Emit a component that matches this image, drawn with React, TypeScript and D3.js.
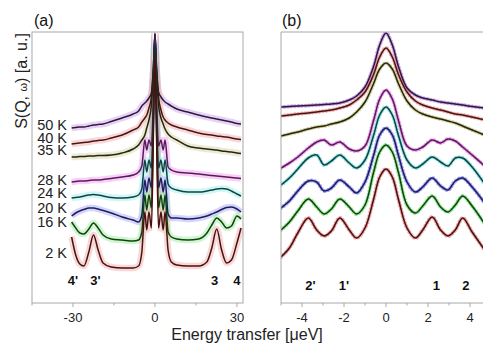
import React from "react";
import * as d3 from "d3";

// ---------- data ----------
const temperatures = ["50 K", "40 K", "35 K", "28 K", "24 K", "20 K", "16 K", "2 K"];

// panel (a): energy transfer grid [µeV]
const energyA = [-30.5, -29, -27.5, -26, -24.2, -22.5, -20.8, -19, -16, -12, -8, -6, -4.8, -3.7, -3.0, -2.2, -1.3, -0.6, 0,
  0.6, 1.3, 2.2, 3.0, 3.7, 4.8, 6, 8, 12, 16, 19, 20.8, 22.6, 24.4, 26.2, 28, 30, 31.5];

const a50K = [175, 175.5, 176, 176, 177, 178, 178.5, 179, 181.5, 185, 189, 192, 197, 200, 202, 205, 210, 235, 270,
  235, 211, 206, 203, 201, 199, 197, 194, 191, 188, 186, 185, 184, 183, 182, 181, 179.5, 179];
const a40K = [159, 159.5, 160, 160.5, 161, 162, 162.5, 163, 165, 168, 173, 176, 181, 185, 188, 195, 206, 233, 269,
  233, 206, 193, 186, 183, 180, 178, 176, 173, 170, 168.5, 168, 167, 166.5, 166, 165, 164, 163.5];
const a35K = [146, 146, 146.5, 146.5, 147, 147, 147.5, 147.5, 148, 150, 154, 158, 163, 168, 175, 183, 198, 228, 268,
  228, 198, 185, 179, 174, 169, 166, 163, 157, 155, 154, 153.5, 153, 152, 151.5, 151, 150, 149.5];
const a28K = [121, 121.5, 122, 122, 122.5, 123, 123, 123.5, 124.5, 126, 128, 131, 137, 163, 153, 163, 157, 203, 267,
  203, 157, 163, 153, 163, 136, 133, 131, 130, 129, 128, 127.5, 127, 126.5, 126, 125.5, 125, 124.5];
const a24K = [105, 105.5, 106, 107, 108, 108.5, 108, 107, 105.5, 105, 106, 108, 114, 143, 131, 143, 135, 193, 263,
  193, 135, 143, 131, 143, 119, 115, 113, 111, 111, 112, 113, 114, 114.5, 114, 112, 109, 107];
const a20K = [87, 90, 92, 93.5, 95, 95, 94, 92.5, 90, 86, 83, 81, 88, 123, 111, 125, 115, 183, 258,
  183, 115, 125, 111, 123, 89, 85, 85, 84, 85, 87, 89, 91, 93.5, 95.5, 96, 94, 91];
const a16K = [81, 75, 70, 69, 74, 80, 75, 68, 64, 63, 62, 63, 71, 108, 93, 108, 95, 173, 253,
  173, 95, 108, 93, 108, 71, 66, 64, 63, 64, 70, 78, 85, 81, 75, 77, 87, 84];
const a2K = [66, 48, 39, 37, 51, 68, 53, 40, 36, 35, 35, 37, 51, 91, 73, 91, 75, 163, 248,
  163, 75, 91, 73, 91, 53, 41, 38, 37, 37, 41, 55, 74, 53, 40, 43, 60, 75];

// panel (b): energy transfer grid [µeV]
const energyB = [-5, -4.6, -4.2, -3.7, -3.3, -2.95, -2.6, -2.2, -1.75, -1.4, -1.0, -0.6, -0.3, 0,
  0.3, 0.6, 1.0, 1.4, 1.75, 2.2, 2.6, 2.95, 3.3, 3.65, 4.1, 4.7];

const b50K = [196, 196.5, 197, 197.5, 198, 198.5, 199, 200, 203, 207, 216, 236, 258, 270, 258, 236, 215, 208, 205, 203, 201, 200, 199, 198, 196.5, 195];
const b40K = [187, 188, 189, 190, 191, 192, 193, 195, 198, 203, 211, 228, 246, 255, 246, 228, 211, 202, 198, 195, 193, 191, 189, 188, 186, 183];
const b35K = [167, 169, 171, 174, 176, 177, 179, 181, 185, 191, 201, 219, 234, 240, 234, 219, 202, 193, 189, 186, 184, 182, 180, 177, 173, 168];
const b28K = [135, 140, 146, 155, 161, 163, 158, 161, 154, 152, 157, 182, 204, 213, 204, 182, 157, 153, 156, 163, 160, 164, 162, 156, 148, 137];
const b24K = [118, 125, 134, 145, 148, 138, 142, 148, 140, 135, 143, 167, 188, 196, 188, 167, 143, 135, 139, 146, 141, 137, 145, 145, 136, 119];
const b20K = [95, 102, 112, 122, 121, 112, 115, 123, 116, 110, 121, 147, 168, 175, 168, 147, 121, 111, 116, 125, 117, 113, 122, 125, 116, 100];
const b16K = [73, 81, 92, 104, 96, 89, 94, 104, 96, 89, 98, 130, 151, 158, 151, 130, 98, 90, 97, 107, 96, 91, 98, 107, 97, 79];
const b2K = [46, 55, 70, 85, 73, 67, 72, 85, 73, 65, 75, 103, 126, 134, 126, 103, 75, 65, 73, 86, 73, 67, 73, 85, 71, 53];

const seriesA = [a50K, a40K, a35K, a28K, a24K, a20K, a16K, a2K];
const seriesB = [b50K, b40K, b35K, b28K, b24K, b20K, b16K, b2K];

const peakLabelsA = ["4'", "3'", "3", "4"];
const peakEnergiesA = [-30, -21.8, 21.8, 30];
const peakLabelsB = ["2'", "1'", "1", "2"];
const peakEnergiesB = [-3.6, -2.0, 2.4, 3.8];

const dotColorsA = ["#c592e6", "#f2a0a0", "#cfd09a", "#ec8cec", "#8eeaea", "#9a9af2", "#8ee68e", "#eea0a0"];
const dotColorsB = ["#b57ed8", "#e88a8a", "#bdbd78", "#e07ae0", "#6ad8d8", "#7c7cee", "#6ed86e", "#e08080"];
const fitColors = ["#2e1a40", "#4a1414", "#26260e", "#5a1a5a", "#0e4444", "#1c1c60", "#0e440e", "#4a1010"];
const labelBaselines = [129.5, 142.5, 155, 184.5, 198, 212.5, 226.5, 258];

const FONT = "'Liberation Sans', Arial, Helvetica, sans-serif";

export default function App() {
  const W = 483, H = 343;
  const top = 32, bottom = 303;
  const xA = d3.scaleLinear().domain([-45, 32]).range([32, 242.4]);
  const xB = d3.scaleLinear().domain([-5, 5]).range([281, 491]);
  const y = d3.scaleLinear().domain([0, 271]).range([bottom, top]);

  const lineA = d3.line<number>().x((_, i) => xA(energyA[i])).y((d) => y(d)).curve(d3.curveMonotoneX);
  const lineB = d3.line<number>().x((_, i) => xB(energyB[i])).y((d) => y(d)).curve(d3.curveCatmullRom.alpha(0.5));

  const ticksA = d3.range(-45, 32, 15);
  const ticksB = d3.range(-5, 5.01, 1);
  const frame = "#a8a8a8";
  const cL = xA(-1.0), cR = xA(1.0);

  return (
    <svg width={W} height={H} style={{ position: "absolute", left: 0, top: 0, background: "#fff" }} fontFamily={FONT}>
      <defs>
        <clipPath id="clipA"><rect x={32} y={top} width={211} height={bottom - top} /></clipPath>
        <clipPath id="clipAband">
          <rect x={32} y={top} width={cL - 32} height={bottom - top} />
          <rect x={cR} y={top} width={243 - cR} height={bottom - top} />
        </clipPath>
        <clipPath id="clipB"><rect x={281} y={top} width={W - 281} height={bottom - top} /></clipPath>
      </defs>
      <rect width={W} height={H} fill="#fff" />

      {/* panel (a) */}
      <g clipPath="url(#clipAband)">
        {seriesA.map((s, i) => (
          <path key={"da" + i} d={lineA(s) || ""} fill="none" stroke={dotColorsA[i]} strokeWidth={6.5} strokeOpacity={0.42} strokeLinejoin="round" />
        ))}
      </g>
      <g clipPath="url(#clipA)">
        {seriesA.map((s, i) => (
          <path key={"fa" + i} d={lineA(s) || ""} fill="none" stroke={fitColors[i]} strokeWidth={1.5} strokeLinejoin="round" />
        ))}
      </g>
      <rect x={32} y={top} width={211} height={bottom - top} fill="none" stroke={frame} strokeWidth={1} />
      {ticksA.map((t) => (
        <g key={"ta" + t}>
          <line x1={xA(t)} x2={xA(t)} y1={bottom} y2={bottom + (t % 30 === 0 ? 4 : 2.5)} stroke={frame} />
          {t % 30 === 0 && (
            <text x={xA(t)} y={322} fontSize={13} textAnchor="middle" fill="#222">{String(t)}</text>
          )}
        </g>
      ))}
      {temperatures.map((t, i) => (
        <text key={"lt" + i} x={67} y={labelBaselines[i]} fontSize={14.5} textAnchor="end" fill="#222">{t}</text>
      ))}
      {peakLabelsA.map((l, i) => (
        <text key={"pa" + i} x={xA(peakEnergiesA[i])} y={285} fontSize={13} fontWeight="bold" textAnchor="middle" fill="#111">{l}</text>
      ))}
      <text x={34} y={26} fontSize={16} fill="#111">(a)</text>

      {/* panel (b) */}
      <g clipPath="url(#clipB)">
        {seriesB.map((s, i) => (
          <path key={"db" + i} d={lineB(s) || ""} fill="none" stroke={dotColorsB[i]} strokeWidth={4} strokeOpacity={0.7}
            strokeDasharray="0.1 3.4" strokeLinecap="round" />
        ))}
        {seriesB.map((s, i) => (
          <path key={"fb" + i} d={lineB(s) || ""} fill="none" stroke={fitColors[i]} strokeWidth={1.5} strokeLinejoin="round" />
        ))}
      </g>
      <line x1={281} x2={W} y1={top} y2={top} stroke={frame} />
      <line x1={281} x2={281} y1={top} y2={bottom} stroke={frame} />
      <line x1={281} x2={W} y1={bottom} y2={bottom} stroke={frame} />
      {ticksB.map((t) => (
        <g key={"tb" + t}>
          <line x1={xB(t)} x2={xB(t)} y1={bottom} y2={bottom + (Math.round(t) % 2 === 0 ? 4 : 2.5)} stroke={frame} />
          {Math.round(t) % 2 === 0 && (
            <text x={xB(t)} y={322} fontSize={13} textAnchor="middle" fill="#222">{String(Math.round(t))}</text>
          )}
        </g>
      ))}
      {peakLabelsB.map((l, i) => (
        <text key={"pb" + i} x={xB(peakEnergiesB[i])} y={290} fontSize={13} fontWeight="bold" textAnchor="middle" fill="#111">{l}</text>
      ))}
      <text x={282} y={26} fontSize={16} fill="#111">(b)</text>

      {/* axis titles */}
      <text transform="translate(27,81) rotate(-90)" fontSize={16} textAnchor="middle" fill="#222">
        S(Q, <tspan fontSize={11}>ω</tspan>) [a. u.]
      </text>
      <text x={247} y={340} fontSize={16} textAnchor="middle" fill="#222">Energy transfer [μeV]</text>
    </svg>
  );
}
